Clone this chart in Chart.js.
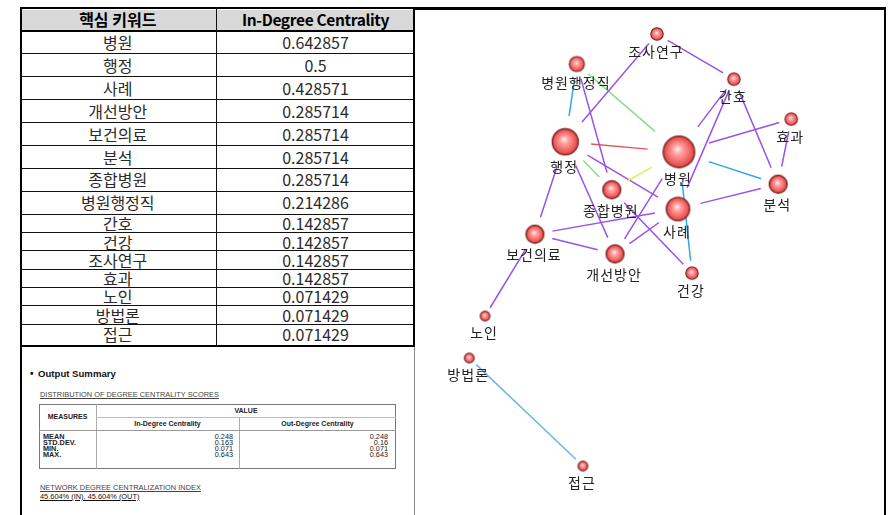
<!DOCTYPE html>
<html><head><meta charset="utf-8">
<script src="https://cdn.jsdelivr.net/npm/chart.js@4/dist/chart.umd.min.js"></script>
<style>
html,body{margin:0;padding:0;background:#fff;width:888px;height:515px;overflow:hidden;}
#wrap{position:relative;width:888px;height:515px;}
.abs{position:absolute;box-sizing:border-box;}
.cell{position:absolute;text-align:center;font-family:"Noto Sans CJK KR","Noto Sans",sans-serif;font-size:16px;color:#2a2a2a;white-space:nowrap;}
.hd{font-weight:bold;color:#000;font-size:16px;}
.sm{position:absolute;font-family:"Liberation Sans",Arial,sans-serif;color:#333;white-space:nowrap;line-height:1;}
</style></head><body>
<div id="wrap">
  <div id="tbl"></div>
  <div id="summary"></div>
  <canvas id="net" width="466" height="505" style="position:absolute;left:417px;top:10px;"></canvas>
</div>
<script>
// ---------- data ----------
const keywords = ['병원','행정','사례','개선방안','보건의료','분석','종합병원','병원행정직','간호','건강','조사연구','효과','노인','방법론','접근'];
const inDegree = [0.642857,0.5,0.428571,0.285714,0.285714,0.285714,0.285714,0.214286,0.142857,0.142857,0.142857,0.142857,0.071429,0.071429,0.071429];
const headerLabels = ['핵심 키워드','In-Degree Centrality'];
// network layout coordinates (layout space 0..100)
const layoutX = [56.2,31.8,56.0,42.5,25.3,77.5,41.8,34.3,68.0,59.0,51.5,80.3,14.6,11.2,35.6];
const layoutY = [28.1,26.1,39.4,48.3,44.4,34.5,35.6,10.7,13.7,52.1,4.75,21.6,60.6,68.9,90.3];
// ties
const edgeFrom  = ['조사연구','조사연구','병원행정직','병원행정직','병원행정직','간호','간호','간호','효과','효과','행정','병원','행정','종합병원','행정','행정','행정','병원','병원','사례','보건의료','보건의료','개선방안','종합병원','보건의료','방법론'];
const edgeTo    = ['간호','행정','행정','병원','종합병원','병원','사례','분석','병원','분석','병원','분석','종합병원','병원','사례','보건의료','개선방안','개선방안','건강','분석','사례','개선방안','사례','건강','노인','접근'];
const edgeLevel = [1,1,2,3,1,1,1,1,1,1,5,2,3,4,1,1,1,1,2,1,1,1,1,1,1,6];
// output summary
const summaryTitle = 'Output Summary';
const distTitle = 'DISTRIBUTION OF DEGREE CENTRALITY SCORES';
const summaryMeasures = ['MEAN','STD.DEV.','MIN.','MAX.'];
const summaryIn  = ['0.248','0.163','0.071','0.643'];
const summaryOut = ['0.248','0.16','0.071','0.643'];
const centralTitle = 'NETWORK DEGREE CENTRALIZATION INDEX';
const centralIn = '45.604%';
const centralOut = '45.604%';

// ---------- left table ----------
function div(parent, cls, css, text){
  const d=document.createElement('div'); d.className=cls; d.style.cssText=css;
  if(text!==undefined) d.textContent=text; parent.appendChild(d); return d;
}
const wrap=document.getElementById('wrap');
const T=document.getElementById('tbl');
const tL=19.5, tR=415, tT=7, tB=347, colX=216;
div(T,'abs',`left:${tL}px;top:${tT}px;width:${tR-tL}px;height:${tB-tT}px;border:2.5px solid #000;`);
div(T,'abs',`left:${tL+2.5}px;top:${tT+2.5}px;width:${tR-tL-5}px;height:${31-tT-2.5}px;background:#d8d8d8;`);
const bounds=[31];
for(let i=0;i<keywords.length;i++){
  const h = i<8 ? 22.9 : (i<keywords.length-1 ? 18.3 : 21);
  bounds.push(bounds[i]+h);
}
bounds[bounds.length-1]=tB-2.5;
// header texts
div(T,'cell hd',`left:${tL}px;width:${colX-tL}px;top:${tT+1}px;height:23px;line-height:23px;`,headerLabels[0]);
div(T,'cell hd',`left:${colX}px;width:${tR-colX}px;top:${tT+1}px;height:23px;line-height:23px;font-size:15.5px;letter-spacing:-0.35px;`,headerLabels[1]);
div(T,'abs',`left:${tL}px;top:${bounds[0]-1}px;width:${tR-tL}px;height:2px;background:#000;`);
keywords.forEach((k,i)=>{
  const top=bounds[i], h=bounds[i+1]-bounds[i];
  div(T,'cell',`left:${tL}px;width:${colX-tL}px;top:${top}px;height:${h}px;line-height:${h}px;`,k);
  div(T,'cell',`left:${colX}px;width:${tR-colX}px;top:${top}px;height:${h}px;line-height:${h}px;`,String(inDegree[i]));
  if(i<keywords.length-1) div(T,'abs',`left:${tL}px;top:${bounds[i+1]-0.5}px;width:${tR-tL}px;height:1px;background:#111;`);
});
div(T,'abs',`left:${colX-0.5}px;top:${tT}px;width:1.2px;height:${tB-tT}px;background:#111;`);

// ---------- summary ----------
const S=document.getElementById('summary');
div(S,'abs',`left:19.5px;top:${tB}px;width:2.5px;height:${515-tB}px;background:#000;`);
div(S,'abs',`left:413.5px;top:${tB}px;width:1.5px;height:${515-tB}px;background:#888;`);
div(S,'abs',`left:412.5px;top:${tT}px;width:2.5px;height:${tB-tT}px;background:#000;`);
div(S,'sm',`left:30px;top:369px;font-size:10px;color:#111;font-weight:bold;`,'•');
div(S,'sm',`left:38px;top:368.5px;font-size:9.6px;color:#111;font-weight:bold;`,summaryTitle);
div(S,'sm',`left:40px;top:390.5px;font-size:7.4px;text-decoration:underline;color:#444;`,distTitle);
// inner table
const iL=39, iT=404, iR=396, iB=469, c1=96, c2=239, r1=417, r2=429.5;
div(S,'abs',`left:${iL}px;top:${iT}px;width:${iR-iL}px;height:${iB-iT}px;border:1px solid #777;`);
div(S,'abs',`left:${c1}px;top:${iT}px;width:1px;height:${iB-iT}px;background:#aaa;`);
div(S,'abs',`left:${c2}px;top:${r1}px;width:1px;height:${iB-r1}px;background:#aaa;`);
div(S,'abs',`left:${c1}px;top:${r1}px;width:${iR-c1}px;height:1px;background:#bbb;`);
div(S,'abs',`left:${iL}px;top:${r2}px;width:${iR-iL}px;height:1px;background:#999;`);
div(S,'sm',`left:${iL}px;width:${c1-iL}px;text-align:center;top:413px;font-size:7px;font-weight:bold;color:#222;`,'MEASURES');
div(S,'sm',`left:${c1}px;width:${iR-c1}px;text-align:center;top:406.5px;font-size:7px;font-weight:bold;color:#222;`,'VALUE');
div(S,'sm',`left:${c1}px;width:${c2-c1}px;text-align:center;top:420px;font-size:7px;font-weight:bold;color:#222;`,headerLabels[1]);
div(S,'sm',`left:${c2}px;width:${iR-c2}px;text-align:center;top:420px;font-size:7px;font-weight:bold;color:#222;`,'Out-Degree Centrality');
summaryMeasures.forEach((m,i)=>{
  const y=433+i*6;
  div(S,'sm',`left:43px;top:${y}px;font-size:7.3px;font-weight:bold;color:#222;`,m);
  div(S,'sm',`left:${c1}px;width:${c2-c1-6}px;text-align:right;top:${y}px;font-size:7.3px;color:#222;`,summaryIn[i]);
  div(S,'sm',`left:${c2}px;width:${iR-c2-8}px;text-align:right;top:${y}px;font-size:7.3px;color:#222;`,summaryOut[i]);
});
div(S,'sm',`left:40px;top:484px;font-size:7.4px;text-decoration:underline;color:#444;`,centralTitle);
div(S,'sm',`left:40px;top:493px;font-size:7.4px;text-decoration:underline;color:#111;`,`${centralIn} (IN), ${centralOut} (OUT)`);

// right panel frame
div(wrap,'abs',`left:415px;top:7px;width:471px;height:2.5px;background:#000;`);
div(wrap,'abs',`left:883.5px;top:7px;width:2.5px;height:508px;background:#000;`);

// ---------- network (Chart.js) ----------
const idx = Object.fromEntries(keywords.map((k,i)=>[k,i]));
const nodeR = inDegree.map(c => 3.5 + 19*c);
function makeSphere(r){
  const s=Math.ceil(2*r+3), c=s/2;
  const cv=document.createElement('canvas'); cv.width=s; cv.height=s;
  const g=cv.getContext('2d');
  const grad=g.createRadialGradient(c-r*0.1,c-r*0.2,0,c,c,r);
  grad.addColorStop(0,'#fff2f2');
  grad.addColorStop(0.3,'#ffa3a3');
  grad.addColorStop(0.75,'#f26262');
  grad.addColorStop(1,'#d94343');
  g.beginPath(); g.arc(c,c,r,0,Math.PI*2); g.fillStyle=grad; g.fill();
  g.lineWidth = r>8 ? 1.4 : 1.1; g.strokeStyle='#7d2424'; g.stroke();
  return cv;
}
const sprites = nodeR.map(makeSphere);
const levelColor = {1:'#9a52e8',2:'#33a8e2',3:'#82e08c',4:'#e2ee58',5:'#e45656',6:'#6cb6e6'};

const datasets = edgeFrom.map((f,i)=>{
  const a=idx[f], b=idx[edgeTo[i]];
  return {
    data:[{x:layoutX[a],y:layoutY[a]},{x:layoutX[b],y:layoutY[b]}],
    showLine:true, borderColor:levelColor[edgeLevel[i]], borderWidth:1.5,
    pointRadius:0, pointHoverRadius:0, order:1, trim:[2*nodeR[a],2*nodeR[b]]
  };
});
datasets.push({
  data: keywords.map((k,i)=>({x:layoutX[i],y:layoutY[i]})),
  pointStyle: sprites, pointRadius: nodeR, pointHoverRadius: nodeR,
  showLine:false, order:0, isNodes:true
});

const edgeTrim = {
  id:'edgeTrim',
  beforeDatasetsDraw(chart){
    const xs=chart.scales.x, ys=chart.scales.y;
    chart.data.datasets.forEach((ds,i)=>{
      if(!ds.trim) return;
      const meta=chart.getDatasetMeta(i), p=meta.data;
      const x0=xs.getPixelForValue(ds.data[0].x), y0=ys.getPixelForValue(ds.data[0].y);
      const x1=xs.getPixelForValue(ds.data[1].x), y1=ys.getPixelForValue(ds.data[1].y);
      const dx=x1-x0, dy=y1-y0, L=Math.hypot(dx,dy), ux=dx/L, uy=dy/L;
      p[0].x=x0+ux*ds.trim[0]; p[0].y=y0+uy*ds.trim[0];
      p[1].x=x1-ux*ds.trim[1]; p[1].y=y1-uy*ds.trim[1];
      if(meta.dataset) meta.dataset._path=undefined;
    });
  }
};
const nodeLabels = {
  id:'nodeLabels',
  afterDatasetsDraw(chart){
    const i=chart.data.datasets.findIndex(d=>d.isNodes);
    const meta=chart.getDatasetMeta(i), ctx=chart.ctx;
    ctx.save();
    ctx.font='14px "Noto Sans CJK KR", sans-serif';
    ctx.fillStyle='#222'; ctx.textAlign='center'; ctx.textBaseline='middle';
    try{ ctx.letterSpacing='1px'; }catch(e){}
    meta.data.forEach((pt,j)=>{
      ctx.fillText(keywords[j], pt.x-1, pt.y+nodeR[j]+11.5);
    });
    ctx.restore();
  }
};

new Chart(document.getElementById('net'),{
  type:'scatter',
  data:{datasets},
  options:{
    responsive:false, animation:false, events:[],
    layout:{padding:0, autoPadding:false},
    plugins:{legend:{display:false},tooltip:{enabled:false}},
    scales:{
      x:{type:'linear',min:0,max:100,display:false},
      y:{type:'linear',min:0,max:100,reverse:true,display:false}
    }
  },
  plugins:[edgeTrim,nodeLabels]
});
</script>
</body></html>
